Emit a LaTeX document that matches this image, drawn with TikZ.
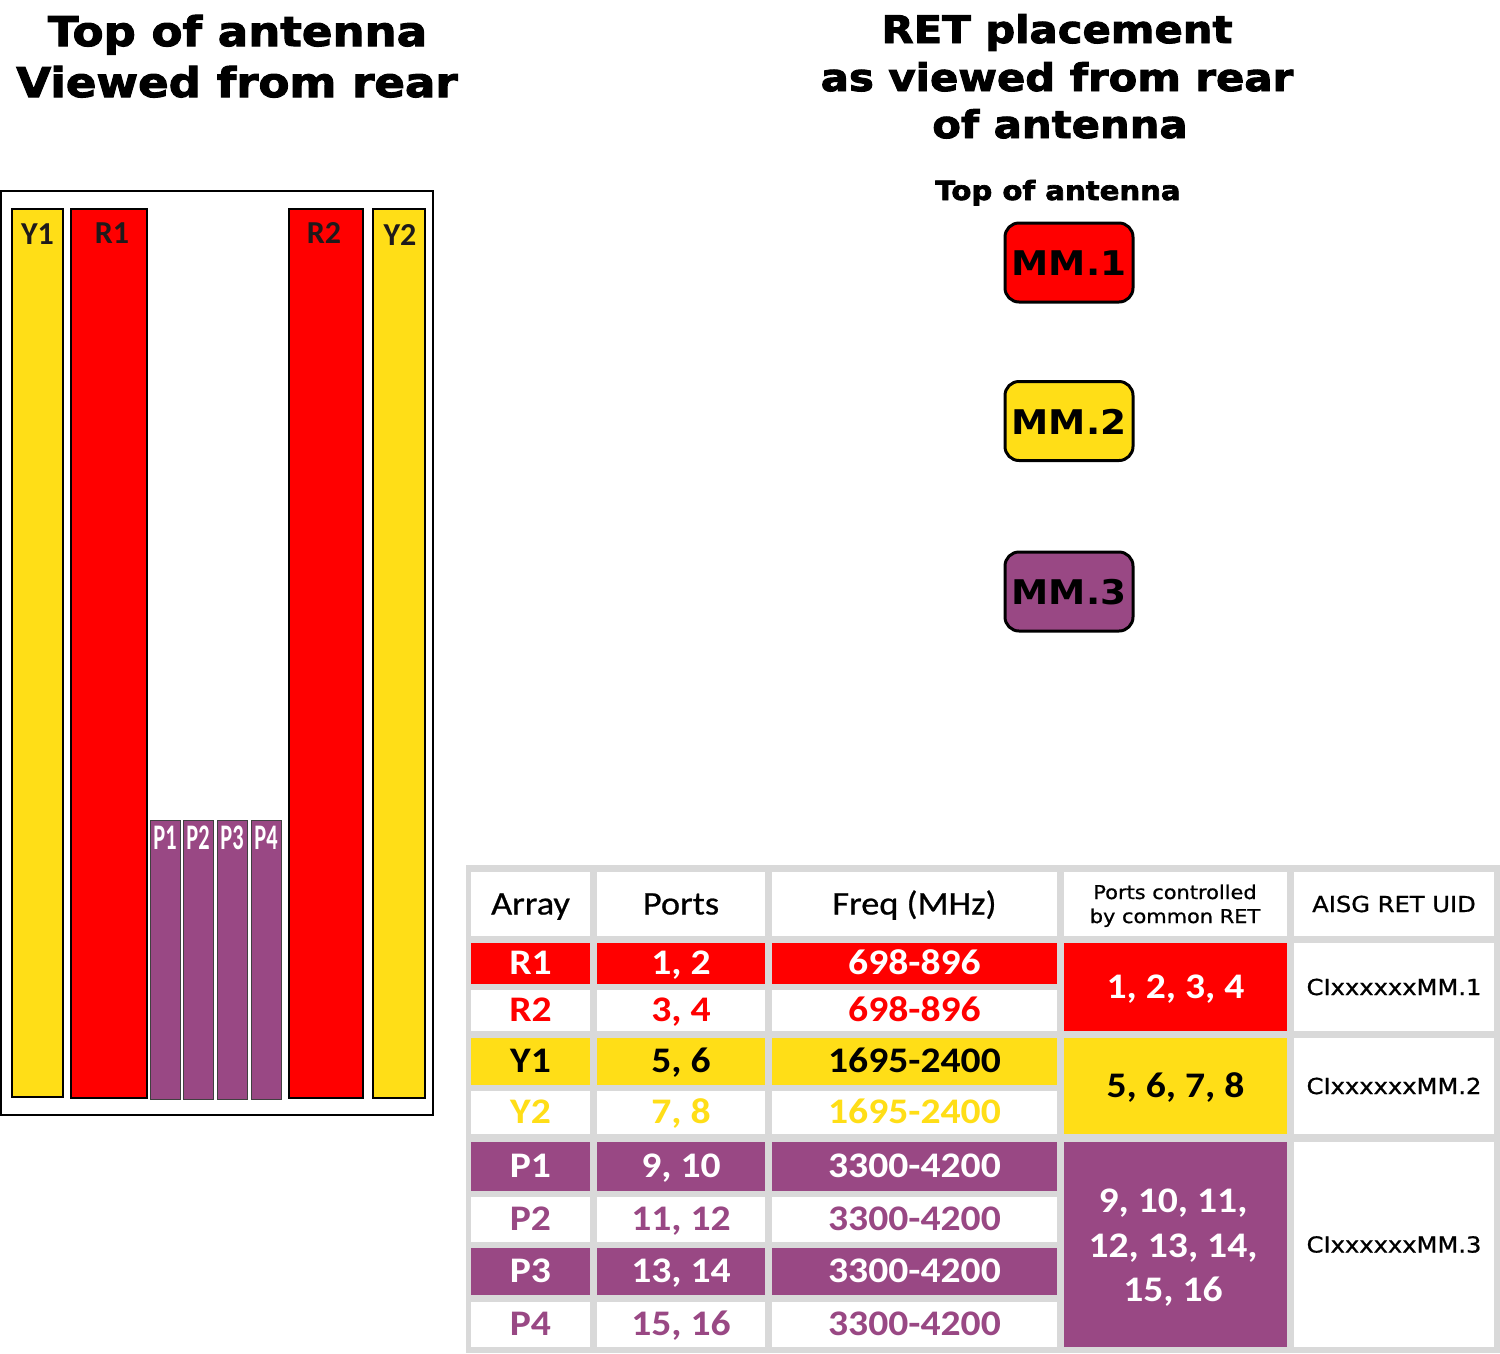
\documentclass[tikz,border=0pt]{standalone}
\usepackage{fontspec}
\setmainfont{Carlito}
\newfontfamily\tabfont{Carlito}[FakeStretch=1.1]
\newfontfamily\hdrfont{Carlito}[FakeStretch=1.1, FakeBold=0.7]
\newfontfamily\narrowfont{Carlito}[FakeStretch=0.62]
\newfontfamily\dvsfont{DejaVu Sans}[FakeStretch=1.1]
\newfontfamily\uidfont{DejaVu Sans}[FakeStretch=1.1, FakeBold=0.9]
\newfontfamily\titlefont{DejaVu Sans}[FakeStretch=1.1, BoldFeatures={FakeBold=2.5}]
\definecolor{cred}{RGB}{255,0,0}
\definecolor{cyel}{RGB}{255,222,23}
\definecolor{cpur}{RGB}{153,72,132}
\definecolor{cgray}{RGB}{217,217,217}
\definecolor{cblk}{RGB}{30,26,27}
\tikzset{
  sz/.style 2 args={minimum width=#1, minimum height=#2},
  bar/.style={draw=black, line width=2pt, inner sep=0pt, outer sep=0pt},
  pbar/.style={draw=black!75, line width=1pt, fill=cpur, inner sep=0pt, outer sep=0pt},
  alabel/.style={anchor=base, inner sep=0pt, text=cblk, font=\bfseries\fontsize{32}{34}\selectfont},
  plabel/.style={anchor=base, inner sep=0pt, text=white, font=\narrowfont\bfseries\fontsize{36}{38}\selectfont},
  mmbox/.style={draw=black, line width=3pt, rounded corners=14pt, inner sep=0pt, minimum width=128pt, minimum height=79pt, text height=26pt, text depth=0pt, font=\dvsfont\bfseries\fontsize{34}{36}\selectfont},
  ttl/.style={anchor=base, inner sep=0pt, font=\titlefont\bfseries\fontsize{41}{44}\selectfont},
  ttlb/.style={anchor=base, inner sep=0pt, font=\titlefont\bfseries\fontsize{38}{42}\selectfont},
  ttlc/.style={anchor=base, inner sep=0pt, font=\titlefont\bfseries\fontsize{26.5}{30}\selectfont},
  cell/.style={inner sep=0pt, outer sep=0pt, text height=22.8pt, text depth=0pt, font=\tabfont\bfseries\fontsize{36}{40}\selectfont},
  hcell/.style={fill=white, inner sep=0pt, outer sep=0pt, text height=21pt, text depth=0pt, font=\hdrfont\fontsize{33}{36}\selectfont},
  ucell/.style={fill=white, inner sep=0pt, outer sep=0pt, text height=16pt, text depth=0pt, font=\uidfont\fontsize{22}{26}\selectfont},
  stxt/.style={anchor=base, inner sep=0pt},
}
\begin{document}
\begin{tikzpicture}[x=1pt,y=-1pt]
\useasboundingbox (0,0) rectangle (1500,1353);
% titles
\node[ttl] (t1a) at (237.5,46) {Top of antenna};
\node[ttl] (t1b) at (237,97) {Viewed from rear};
\node[ttlb] (t2a) at (1057,43) {RET placement};
\node[ttlb] (t2b) at (1057,91) {as viewed from rear};
\node[ttlb] (t2c) at (1060,138) {of antenna};
\node[ttlc] (t3) at (1058,200) {Top of antenna};
% antenna
\node[draw=black, line width=1.5pt, inner sep=0pt, sz={432}{924}] (frame) at (217,653) {};
\node[bar, fill=cyel, sz={51}{888}] (Y1bar) at (37.5,653) {};
\node[bar, fill=cred, sz={76}{889}] (R1bar) at (109,653.5) {};
\node[bar, fill=cred, sz={74}{889}] (R2bar) at (326,653.5) {};
\node[bar, fill=cyel, sz={52}{889}] (Y2bar) at (399,653.5) {};
\node[pbar, sz={30}{279}] (P1bar) at (165,959.5) {};
\node[pbar, sz={30}{279}] (P2bar) at (198,959.5) {};
\node[pbar, sz={30}{279}] (P3bar) at (232,959.5) {};
\node[pbar, sz={30}{279}] (P4bar) at (266,959.5) {};
\node[alabel] (Y1l) at (37.5,244) {Y1};
\node[alabel] (R1l) at (112,243) {R1};
\node[alabel] (R2l) at (324,243) {R2};
\node[alabel] (Y2l) at (400,245) {Y2};
\node[plabel] (P1l) at (165,849) {P1};
\node[plabel] (P2l) at (198,849) {P2};
\node[plabel] (P3l) at (232,849) {P3};
\node[plabel] (P4l) at (266,849) {P4};
% RET boxes
\node[mmbox, fill=cred] (mm1) at (1069,262.5) {MM.1};
\node[mmbox, fill=cyel] (mm2) at (1069,421) {MM.2};
\node[mmbox, fill=cpur] (mm3) at (1069,591.5) {MM.3};
% table
\node[fill=cgray, inner sep=0pt, sz={1034}{488}] (tbg) at (983,1109) {};
\node[hcell, sz={119}{64}] (hA) at (530.5,904) {Array};
\node[hcell, sz={168}{64}] (hP) at (681,904) {Ports};
\node[hcell, sz={285}{64}] (hF) at (914.5,904) {Freq (MHz)};
\node[fill=white, inner sep=0pt, sz={223}{64}] (hC) at (1175.5,904) {};
\node[stxt, font=\uidfont\fontsize{19}{22}\selectfont] (hC1) at (1175,899) {Ports controlled};
\node[stxt, font=\uidfont\fontsize{19}{22}\selectfont] (hC2) at (1175,923) {by common RET};
\node[ucell, sz={200}{64}] (hU) at (1394,904) {AISG RET UID};
% R rows
\node[cell, fill=cred, text=white, sz={119}{41}] (aR1) at (530.5,963.5) {R1};
\node[cell, fill=cred, text=white, sz={168}{41}] (pR1) at (681,963.5) {1, 2};
\node[cell, fill=cred, text=white, sz={285}{41}] (fR1) at (914.5,963.5) {698-896};
\node[cell, fill=white, text=cred, sz={119}{41}] (aR2) at (530.5,1010.5) {R2};
\node[cell, fill=white, text=cred, sz={168}{41}] (pR2) at (681,1010.5) {3, 4};
\node[cell, fill=white, text=cred, sz={285}{41}] (fR2) at (914.5,1010.5) {698-896};
% Y rows
\node[cell, fill=cyel, text=black, sz={119}{47}] (aY1) at (530.5,1061.5) {Y1};
\node[cell, fill=cyel, text=black, sz={168}{47}] (pY1) at (681,1061.5) {5, 6};
\node[cell, fill=cyel, text=black, sz={285}{47}] (fY1) at (914.5,1061.5) {1695-2400};
\node[cell, fill=white, text=cyel, sz={119}{43}] (aY2) at (530.5,1112.5) {Y2};
\node[cell, fill=white, text=cyel, sz={168}{43}] (pY2) at (681,1112.5) {7, 8};
\node[cell, fill=white, text=cyel, sz={285}{43}] (fY2) at (914.5,1112.5) {1695-2400};
% P rows
\node[cell, fill=cpur, text=white, sz={119}{49}] (aP1) at (530.5,1166.5) {P1};
\node[cell, fill=cpur, text=white, sz={168}{49}] (pP1) at (681,1166.5) {9, 10};
\node[cell, fill=cpur, text=white, sz={285}{49}] (fP1) at (914.5,1166.5) {3300-4200};
\node[cell, fill=white, text=cpur, sz={119}{45}] (aP2) at (530.5,1219.5) {P2};
\node[cell, fill=white, text=cpur, sz={168}{45}] (pP2) at (681,1219.5) {11, 12};
\node[cell, fill=white, text=cpur, sz={285}{45}] (fP2) at (914.5,1219.5) {3300-4200};
\node[cell, fill=cpur, text=white, sz={119}{47}] (aP3) at (530.5,1271.5) {P3};
\node[cell, fill=cpur, text=white, sz={168}{47}] (pP3) at (681,1271.5) {13, 14};
\node[cell, fill=cpur, text=white, sz={285}{47}] (fP3) at (914.5,1271.5) {3300-4200};
\node[cell, fill=white, text=cpur, sz={119}{45}] (aP4) at (530.5,1324.5) {P4};
\node[cell, fill=white, text=cpur, sz={168}{45}] (pP4) at (681,1324.5) {15, 16};
\node[cell, fill=white, text=cpur, sz={285}{45}] (fP4) at (914.5,1324.5) {3300-4200};
% merged column 4
\node[cell, fill=cred, text=white, sz={223}{88}] (cR) at (1175.5,987) {1, 2, 3, 4};
\node[cell, fill=cyel, text=black, sz={223}{96}] (cY) at (1175.5,1086) {5, 6, 7, 8};
\node[cell, fill=cpur, sz={223}{205}] (cP) at (1175.5,1244.5) {};
\node[stxt, text=white, font=\tabfont\bfseries\fontsize{36}{40}\selectfont] (cP1) at (1173,1212) {9, 10, 11,};
\node[stxt, text=white, font=\tabfont\bfseries\fontsize{36}{40}\selectfont] (cP2) at (1173,1257) {12, 13, 14,};
\node[stxt, text=white, font=\tabfont\bfseries\fontsize{36}{40}\selectfont] (cP3) at (1173,1301) {15, 16};
% column 5
\node[ucell, sz={200}{88}] (uR) at (1394,987) {CIxxxxxxMM.1};
\node[ucell, sz={200}{96}] (uY) at (1394,1086) {CIxxxxxxMM.2};
\node[ucell, sz={200}{205}] (uP) at (1394,1244.5) {CIxxxxxxMM.3};
\end{tikzpicture}
\end{document}
